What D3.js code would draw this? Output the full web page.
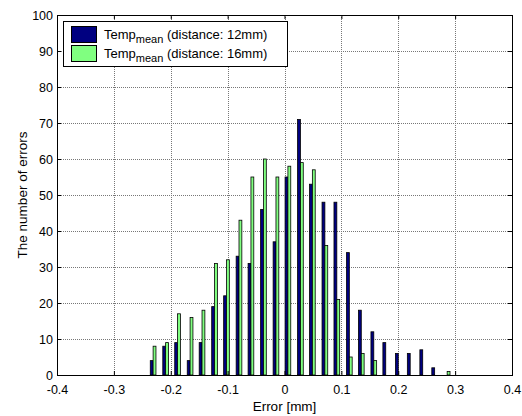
<!DOCTYPE html>
<html lang="en">
<head>
<meta charset="utf-8">
<title>Error histogram</title>
<script src="https://cdn.jsdelivr.net/npm/d3@7/dist/d3.min.js"></script>
<style>
body { margin: 0; background: #fff; }
svg { font-family: "Liberation Sans", Arial, sans-serif; }
</style>
</head>
<body>
<script>
// bin centres (mm) and counts
var binCenters = [-0.231, -0.209, -0.188, -0.166, -0.145, -0.123, -0.102, -0.080, -0.059, -0.037,
                  -0.015, 0.006, 0.028, 0.049, 0.071, 0.092, 0.114, 0.135, 0.157, 0.178,
                  0.200, 0.221, 0.243, 0.264, 0.286];
var counts12 = [4, 8, 9, 4, 9, 19, 22, 33, 31, 46, 37, 55, 71, 53, 48, 48, 34, 18, 12, 9, 6, 6, 7, 2, 0];
var counts16 = [8, 9, 17, 16, 18, 31, 32, 43, 55, 60, 55, 58, 59, 57, 36, 21, 5, 6, 4, 0, 0, 0, 0, 0, 1];
var xTicks = [-0.4, -0.3, -0.2, -0.1, 0, 0.1, 0.2, 0.3, 0.4];
var yTicks = [0, 10, 20, 30, 40, 50, 60, 70, 80, 90, 100];
var seriesNames = ["12mm", "16mm"];
var seriesColors = ["#000080", "#80ff80"];

var W = 522, H = 416;
// plot box (don't call it "top", that's window.top)
var pl = 57, pr = 512, pt = 15, pb = 375;

var svg = d3.select("body").append("svg").attr("width", W).attr("height", H);

var x = d3.scaleLinear().domain([-0.4, 0.4]).range([pl, pr]);
var y = d3.scaleLinear().domain([0, 100]).range([pb, pt]);

// grid lines
var grid = svg.append("g").attr("stroke", "#777").attr("stroke-width", 1).attr("stroke-dasharray", "1,1");
grid.selectAll(".gx").data(xTicks.slice(1, -1)).enter().append("line")
    .attr("x1", function(d){ return Math.round(x(d)) + 0.5; })
    .attr("x2", function(d){ return Math.round(x(d)) + 0.5; })
    .attr("y1", pt).attr("y2", pb);
grid.selectAll(".gy").data(yTicks.slice(1, -1)).enter().append("line")
    .attr("y1", function(d){ return Math.round(y(d)) + 0.5; })
    .attr("y2", function(d){ return Math.round(y(d)) + 0.5; })
    .attr("x1", pl).attr("x2", pr);

// bars: blue left of the bin centre, green right of it
var bw = x(0.005) - x(0);
var rows = binCenters.map(function(c, i){ return {c: c, a: counts12[i], b: counts16[i]}; });
var bars = svg.append("g");
bars.selectAll(".b12").data(rows.filter(function(d){ return d.a > 0; })).enter().append("rect")
    .attr("x", function(d){ return x(d.c) - bw; })
    .attr("y", function(d){ return y(d.a); })
    .attr("width", bw)
    .attr("height", function(d){ return y(0) - y(d.a); })
    .attr("fill", seriesColors[0]).attr("stroke", "#000").attr("stroke-width", 0.8);
bars.selectAll(".b16").data(rows.filter(function(d){ return d.b > 0; })).enter().append("rect")
    .attr("x", function(d){ return x(d.c); })
    .attr("y", function(d){ return y(d.b); })
    .attr("width", bw)
    .attr("height", function(d){ return y(0) - y(d.b); })
    .attr("fill", seriesColors[1]).attr("stroke", "#000").attr("stroke-width", 0.8);

// axes with inward ticks on all four sides
function styleAxis(g){
    g.select(".domain").remove();
    g.selectAll("line").attr("stroke", "#000");
    g.selectAll("text").attr("fill", "#000").attr("font-size", "12.5px")
     .attr("font-family", "Liberation Sans, Arial, sans-serif");
}
var plain = function(d){ return String(d); };
svg.append("g").attr("transform", "translate(0," + pb + ")")
    .call(d3.axisBottom(x).tickValues(xTicks).tickSize(-4).tickPadding(10).tickFormat(plain))
    .call(styleAxis);
svg.append("g").attr("transform", "translate(0," + pt + ")")
    .call(d3.axisTop(x).tickValues(xTicks).tickSize(-4).tickFormat(""))
    .call(styleAxis);
svg.append("g").attr("transform", "translate(" + pl + ",0)")
    .call(d3.axisLeft(y).tickValues(yTicks).tickSize(-4).tickPadding(4).tickFormat(plain))
    .call(styleAxis);
svg.append("g").attr("transform", "translate(" + pr + ",0)")
    .call(d3.axisRight(y).tickValues(yTicks).tickSize(-4).tickFormat(""))
    .call(styleAxis);

svg.append("rect").attr("x", pl + 0.5).attr("y", pt + 0.5)
    .attr("width", pr - pl).attr("height", pb - pt)
    .attr("fill", "none").attr("stroke", "#000").attr("stroke-width", 1);

// axis labels
svg.append("text").attr("x", (pl + pr) / 2).attr("y", 411)
    .attr("text-anchor", "middle").attr("font-size", "13.5px").text("Error [mm]");
svg.append("text").attr("transform", "translate(27," + ((pt + pb) / 2) + ") rotate(-90)")
    .attr("text-anchor", "middle").attr("font-size", "13.5px").text("The number of errors");

// legend
var lg = svg.append("g").attr("transform", "translate(63,21)");
lg.append("rect").attr("x", 0.5).attr("y", 0.5).attr("width", 224).attr("height", 45)
    .attr("fill", "#fff").attr("stroke", "#000");
seriesNames.forEach(function(name, i){
    var row = lg.append("g").attr("transform", "translate(0," + (i * 19) + ")");
    row.append("rect").attr("x", 8.5).attr("y", 5.5).attr("width", 25).attr("height", 16)
        .attr("fill", seriesColors[i]).attr("stroke", "#000");
    var t = row.append("text").attr("x", 41).attr("y", 18).attr("font-size", "13px");
    t.append("tspan").text("Temp");
    t.append("tspan").attr("font-size", "11px").attr("dy", 4).text("mean");
    t.append("tspan").attr("dy", -4).text(" (distance: " + name + ")");
});
</script>
</body>
</html>
